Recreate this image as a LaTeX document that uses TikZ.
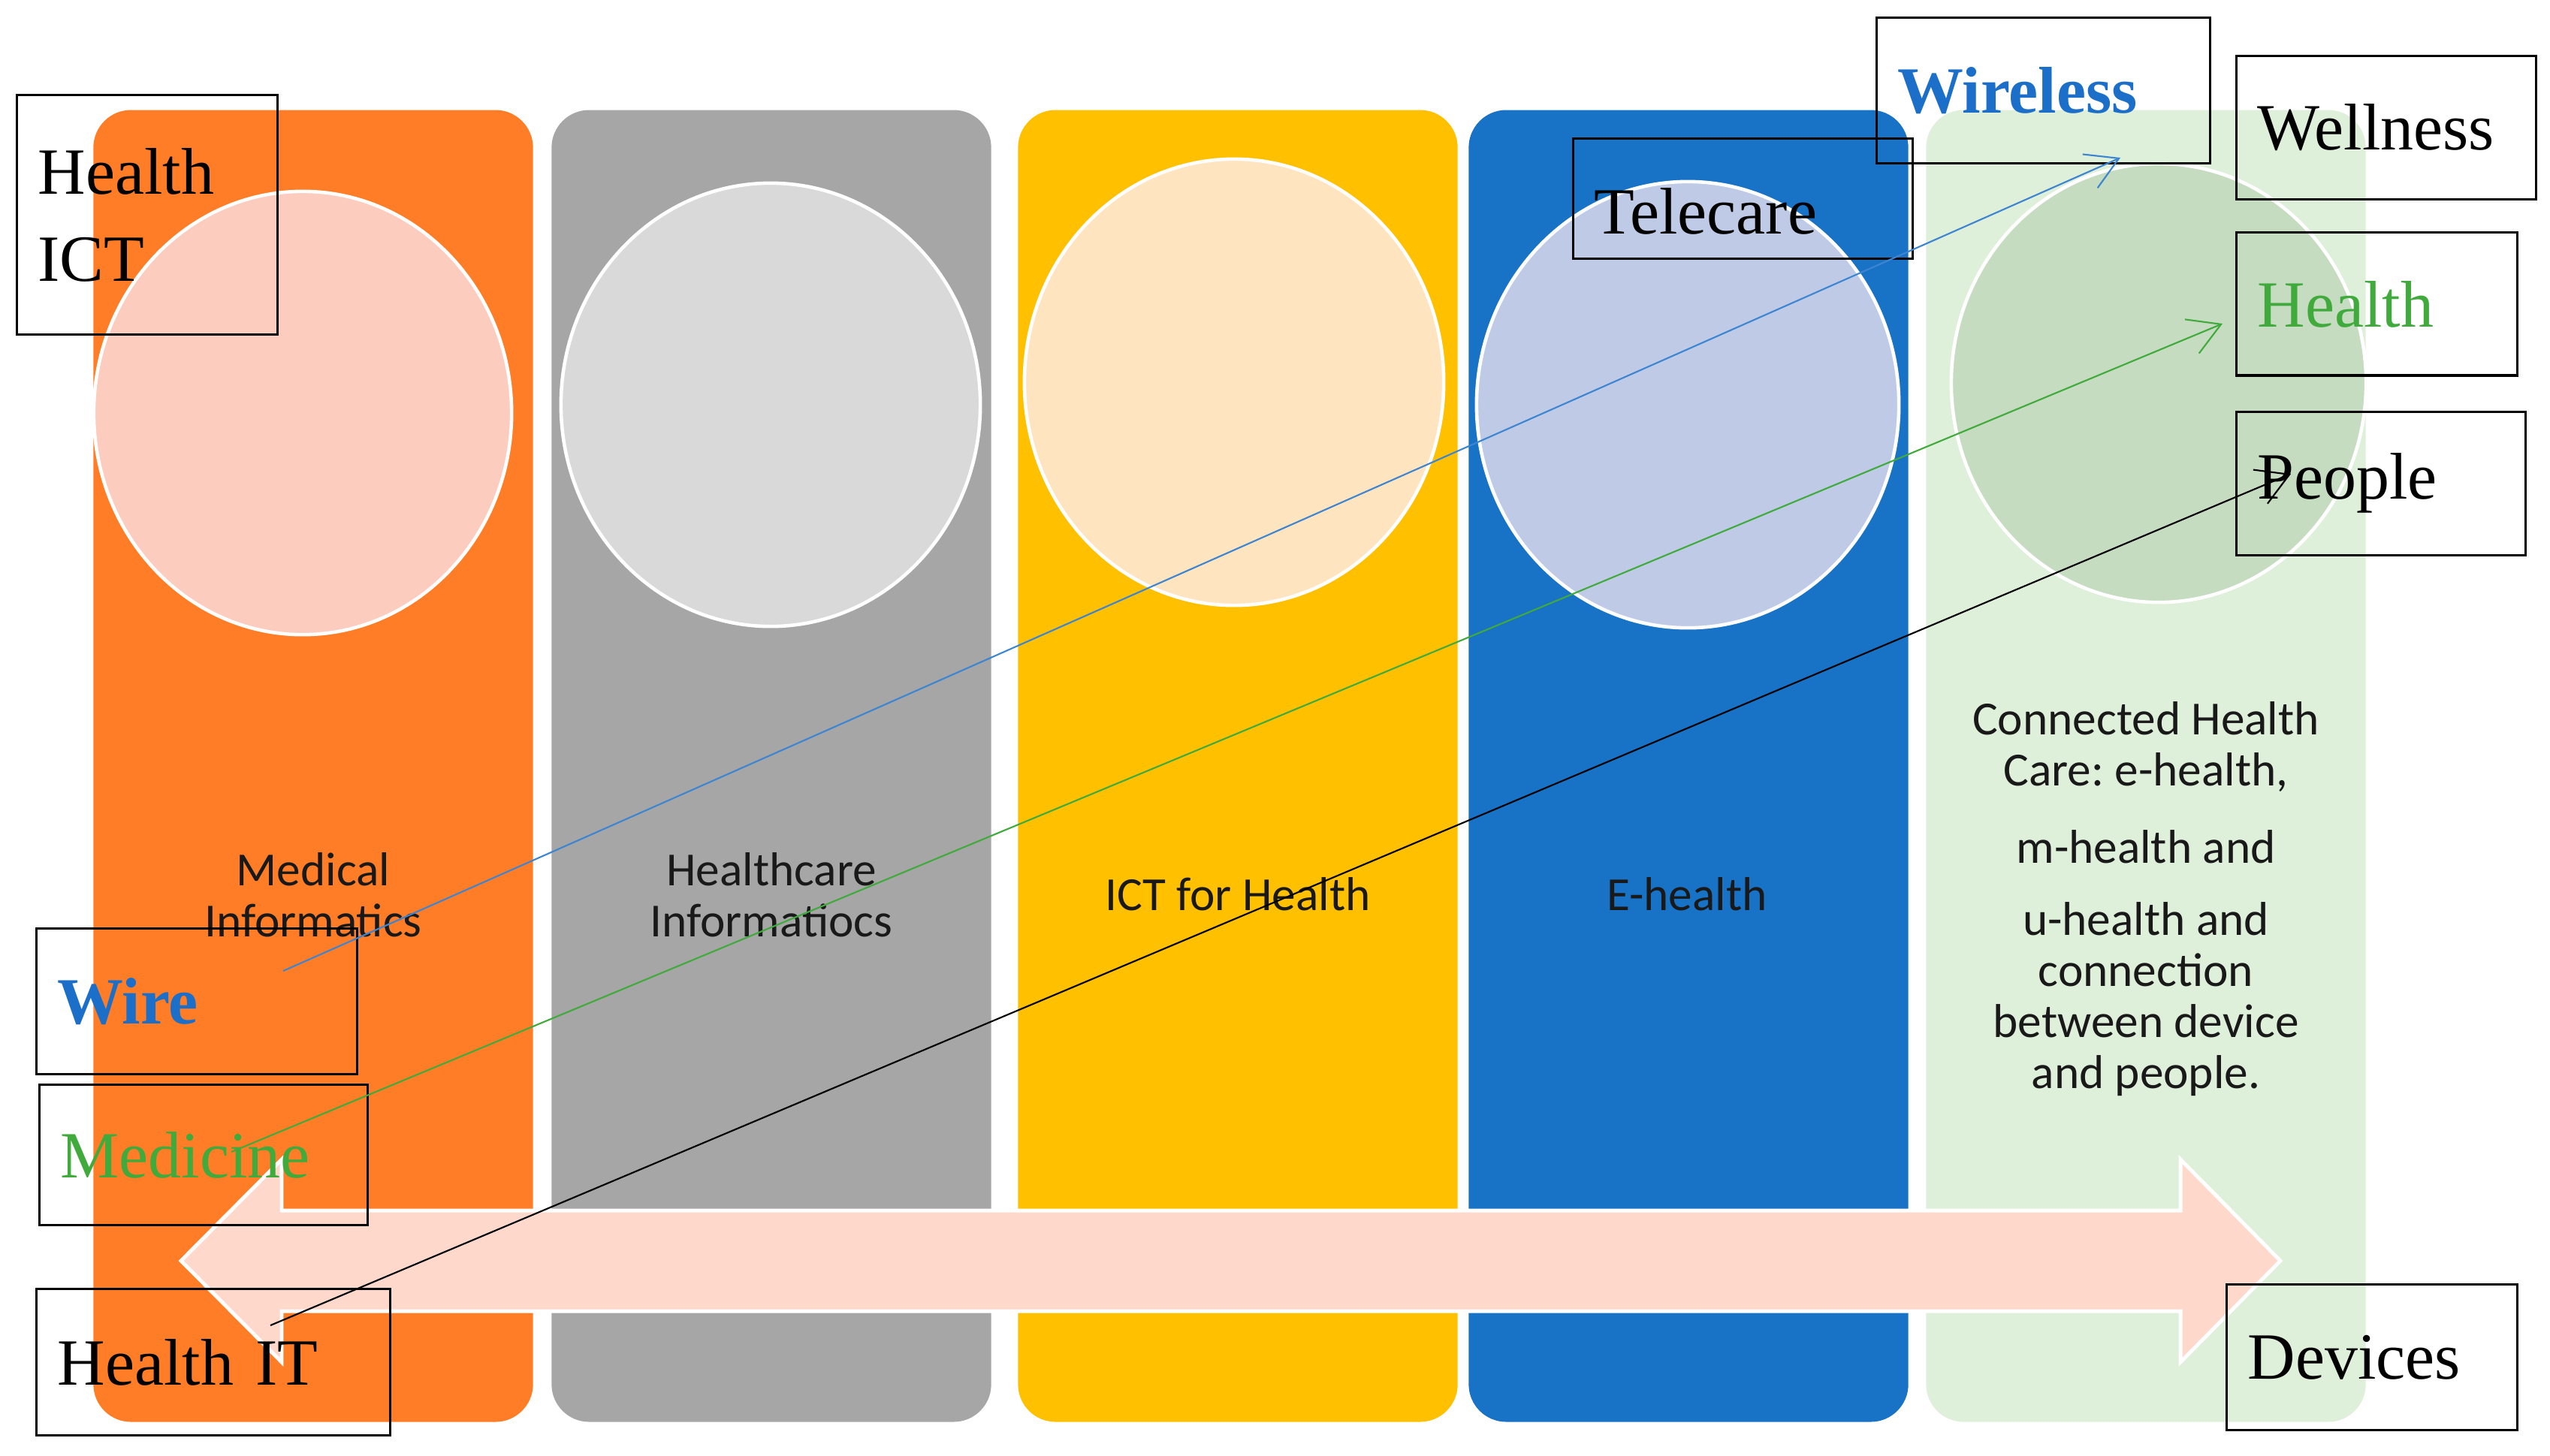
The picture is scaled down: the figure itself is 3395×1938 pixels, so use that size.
\documentclass[tikz,border=0pt]{standalone}
\usepackage{fontspec}
\setmainfont{Liberation Serif}
\newfontfamily\calibri{Carlito}
\usetikzlibrary{positioning,shapes.geometric,arrows.meta}

\definecolor{orangecol}{HTML}{FE7D26}
\definecolor{graycol}{HTML}{A6A6A6}
\definecolor{yellowcol}{HTML}{FFC000}
\definecolor{bluecol}{HTML}{1872C6}
\definecolor{greencol}{HTML}{DEEFDA}
\definecolor{disc1}{HTML}{FCCCBF}
\definecolor{disc2}{HTML}{D9D9D9}
\definecolor{disc3}{HTML}{FFE4C0}
\definecolor{disc4}{HTML}{BFCBE6}
\definecolor{disc5}{HTML}{C5DCC1}
\definecolor{wirecol}{HTML}{1C6FC9}
\definecolor{medcol}{HTML}{41AA3C}
\definecolor{bandcol}{HTML}{FFD8CC}

\begin{document}
\begin{tikzpicture}[x=0.01cm,y=-0.01cm,
	col/.style={rectangle,rounded corners=0.5cm,inner sep=0pt,minimum width=5.85cm,minimum height=17.46cm},
	disc/.style={ellipse,draw=white,line width=1.3pt,inner sep=0pt},
	lbl/.style={font=\calibri\fontsize{18}{19.3}\selectfont,text=black!90,align=center},
	tag/.style={rectangle,draw=black,line width=0.9pt,inner xsep=0.28cm,inner ysep=0pt,align=left,anchor=north west,font=\fontsize{25}{33}\selectfont},
	link/.style={line width=0.6pt,-{Straight Barb[length=4.2mm,width=4.9mm]}}]
		\useasboundingbox (0,0) rectangle (3395,1938);

		\node[col,fill=orangecol]	(1)	at (417,1020)	{};
		\node[col,fill=graycol]		(2)	at (1027,1020)	{};
		\node[col,fill=yellowcol]	(3)	at (1648,1020)	{};
		\node[col,fill=bluecol]		(4)	at (2248,1020)	{};
		\node[col,fill=greencol]	(5)	at (2857,1020)	{};

		\node[disc,fill=disc1,minimum width=5.56cm,minimum height=5.9cm]	(e1)	at (403,550)	{};
		\node[disc,fill=disc2,minimum width=5.58cm,minimum height=5.9cm]	(e2)	at (1026,539)	{};
		\node[disc,fill=disc3,minimum width=5.58cm,minimum height=5.94cm]	(e3)	at (1643,509)	{};
		\node[disc,fill=disc4,minimum width=5.62cm,minimum height=5.94cm]	(e4)	at (2247,539)	{};
		\node[disc,fill=disc5,minimum width=5.52cm,minimum height=5.84cm]	(e5)	at (2874,510)	{};

		\draw[white,line width=1.4pt,fill=bandcol] (241,1679) -- (375,1544) -- (375,1612) -- (2903,1612) -- (2903,1544) -- (3036,1679) -- (2903,1814) -- (2903,1746) -- (375,1746) -- (375,1814) -- cycle;

		\node[lbl]				(l1)	at (417,1192)	{Medical\\Informatics};
		\node[lbl]				(l2)	at (1027,1192)	{Healthcare\\Informatiocs};
		\node[lbl,anchor=base]	(l3)	at (1648,1212)	{ICT for Health};
		\node[lbl,anchor=base]	(l4)	at (2246,1212)	{E-health};
		\node[lbl]				(l5)	at (2857,1197)	{Connected Health\\Care:\ e-health,\\[0.35cm] m-health and\\[0.28cm] u-health and\\connection\\between device\\and people.};

		\node[tag,text width=2.91cm,minimum height=3.19cm]	(healthict)	at (21,125)		{Health\\ICT};
		\node[tag,text width=3.88cm,minimum height=1.94cm,text=wirecol,font=\fontsize{25}{33}\selectfont\bfseries]	(wireless)	at (2497,22)	{Wireless};
		\node[tag,text width=3.96cm,minimum height=1.6cm,text height=1.1cm,text depth=0.16cm]	(telecare)	at (2093,183)	{Telecare};
		\node[tag,text width=3.43cm,minimum height=1.91cm]	(wellness)	at (2976,73)	{Wellness};
		\node[tag,text width=3.18cm,minimum height=1.9cm,text=medcol,below=0.41cm of wellness.south west,anchor=north west]	(health)	{Health};
		\node[tag,text width=3.29cm,minimum height=1.91cm,below=0.45cm of health.south west,anchor=north west]	(people)	{People};
		\node[tag,text width=3.31cm,minimum height=1.94cm]	(devices)	at (2963,1709)	{Devices};
		\node[tag,text width=3.71cm,minimum height=1.94cm,text=wirecol,font=\fontsize{25}{33}\selectfont\bfseries]	(wire)	at (47,1235)	{Wire};
		\node[tag,text width=3.81cm,minimum height=1.87cm,text=medcol]	(medicine)	at (51,1443)	{Medicine};
		\node[tag,text width=4.15cm,minimum height=1.95cm]	(healthit)	at (47,1715)	{Health IT};

		\coordinate (wireS)		at (377,1293);
		\coordinate (wireE)		at (2823,210);
		\coordinate (medS)		at (308,1534);
		\coordinate (medE)		at (2959,431);
		\coordinate (itS)		at (360,1765);
		\coordinate (itE)		at (3050,631);

		\draw[link,draw=wirecol!85!white]	(wireS) -- (wireE);
		\draw[link,draw=medcol]			(medS) -- (medE);
		\draw[link,draw=black]			(itS) -- (itE);
	\end{tikzpicture}
\end{document}
